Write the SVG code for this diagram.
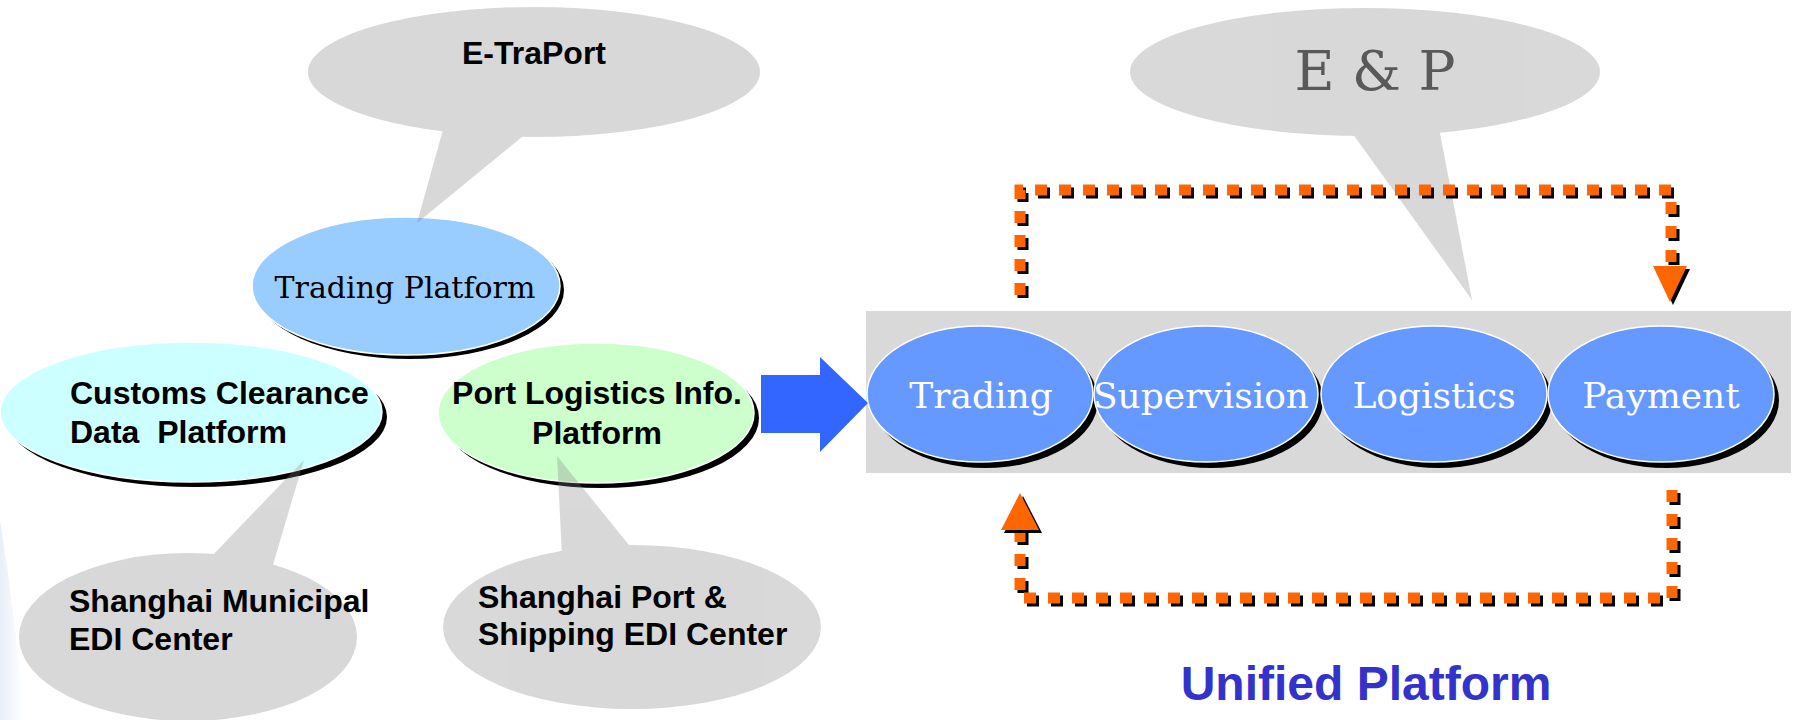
<svg xmlns="http://www.w3.org/2000/svg" width="1800" height="720" viewBox="0 0 1800 720">
<defs>
<style>
.sans{font-family:"Liberation Sans",Arial,sans-serif;font-weight:bold;font-size:32px;fill:#000}
.serif{font-family:"DejaVu Serif","Liberation Serif",serif}
.shadow{fill:#000}
.plat{stroke:#fff;stroke-width:1.5}
.bubble{fill:#808080}
.circ{fill:#6699FF;stroke:#fff;stroke-width:1.5}
.clab{font-family:"DejaVu Serif","Liberation Serif",serif;font-size:36px;fill:#fff;text-anchor:middle}
.dash{fill:none;stroke:#FF6600;stroke-width:11;stroke-dasharray:12 12}
.dashs{fill:none;stroke:#000;stroke-width:11;stroke-dasharray:12 12}
</style>
<linearGradient id="bg" x1="0" y1="0" x2="1" y2="0">
<stop offset="0" stop-color="#E8EFF8"/>
<stop offset="1" stop-color="#FFFFFF"/>
</linearGradient>
</defs>
<rect width="1800" height="720" fill="#fff"/>
<path d="M0,520 Q16,620 24,720 L0,720 Z" fill="url(#bg)"/>

<g id="trading-platform">
<ellipse class="shadow" cx="410" cy="290" rx="154" ry="69"/>
<ellipse class="plat" cx="406" cy="286" rx="154" ry="69" fill="#99CCFF"/>
<text class="serif" x="405" y="298" font-size="30" text-anchor="middle" fill="#000">Trading Platform</text>
</g>

<g id="e-traport" opacity="0.3">
<ellipse class="bubble" cx="534" cy="72" rx="226" ry="65"/>
<polygon class="bubble" points="444,126 528,132 417,223"/>
</g>
<text class="sans" x="534" y="64" text-anchor="middle">E-TraPort</text>

<g id="customs-platform">
<ellipse class="shadow" cx="196" cy="417" rx="191" ry="70"/>
<ellipse class="plat" cx="191" cy="412" rx="191" ry="70" fill="#CCFFFF"/>
<text class="sans" x="70" y="404">Customs Clearance</text>
<text class="sans" x="70" y="443" xml:space="preserve">Data  Platform</text>
</g>

<g id="port-logistics-platform">
<ellipse class="shadow" cx="601" cy="418" rx="158" ry="70"/>
<ellipse class="plat" cx="596" cy="413" rx="158" ry="70" fill="#CCFFCC"/>
<text class="sans" x="597" y="404" text-anchor="middle">Port Logistics Info.</text>
<text class="sans" x="597" y="444" text-anchor="middle">Platform</text>
</g>

<g id="shanghai-municipal-edi" opacity="0.3">
<ellipse class="bubble" cx="188" cy="637" rx="169" ry="84"/>
<polygon class="bubble" points="210,558 272,568 304,460"/>
</g>
<text class="sans" x="69" y="612">Shanghai Municipal</text>
<text class="sans" x="69" y="650">EDI Center</text>

<g id="shanghai-port-edi" opacity="0.3">
<ellipse class="bubble" cx="632" cy="627" rx="189" ry="82"/>
<polygon class="bubble" points="562,556 633,550 557,456"/>
</g>
<text class="sans" x="478" y="608">Shanghai Port &amp;</text>
<text class="sans" x="478" y="645">Shipping EDI Center</text>

<g id="unified-platform">
<rect x="866" y="311" width="925" height="162" fill="#D9D9D9"/>
<g id="node-trading">
<ellipse class="shadow" cx="985" cy="400" rx="113" ry="68"/>
<ellipse class="circ" cx="980" cy="394" rx="113" ry="68"/>
<text class="clab" x="981" y="408">Trading</text>
</g>
<g id="node-supervision">
<ellipse class="shadow" cx="1211" cy="400" rx="112" ry="68"/>
<ellipse class="circ" cx="1206" cy="394" rx="112" ry="68"/>
<text class="clab" x="1201" y="408">Supervision</text>
</g>
<g id="node-logistics">
<ellipse class="shadow" cx="1439" cy="400" rx="113" ry="68"/>
<ellipse class="circ" cx="1434" cy="394" rx="113" ry="68"/>
<text class="clab" x="1434" y="408">Logistics</text>
</g>
<g id="node-payment">
<ellipse class="shadow" cx="1666" cy="400" rx="113" ry="68"/>
<ellipse class="circ" cx="1661" cy="394" rx="113" ry="68"/>
<text class="clab" x="1661" y="408">Payment</text>
</g>
<text x="1366" y="700" font-family="'Liberation Sans',Arial,sans-serif" font-weight="bold" font-size="48" fill="#3333CC" text-anchor="middle">Unified Platform</text>
</g>

<g id="e-and-p" opacity="0.3">
<ellipse class="bubble" cx="1365" cy="72" rx="235" ry="64"/>
<polygon class="bubble" points="1350,130 1439,128 1472,300"/>
</g>
<text class="serif" x="1375" y="90" font-size="55" text-anchor="middle" fill="#595959" xml:space="preserve">E &amp; P</text>

<g id="connectors">
<polygon points="761,375 820,375 820,357 868,403 820,452 820,433 761,433" fill="#3366FF"/>
<path class="dashs" d="M1023,298 V193 H1674 V268"/>
<path class="dash" d="M1020,295 V190 H1671 V265"/>
<polygon points="1656,269 1690,269 1673,305" fill="#000"/>
<polygon points="1653,266 1687,266 1670,302" fill="#FF6600"/>
<path class="dashs" d="M1675,493 V601 H1023 V533"/>
<path class="dash" d="M1672,490 V598 H1020 V530"/>
<polygon points="1004,533 1042,533 1023,496" fill="#000"/>
<polygon points="1001,530 1039,530 1020,493" fill="#FF6600"/>
</g>
</svg>
